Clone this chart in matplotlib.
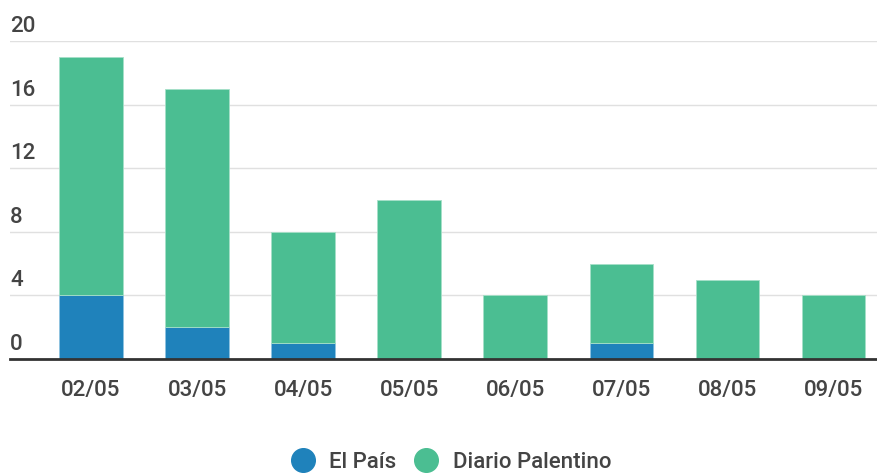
import matplotlib.pyplot as plt
from matplotlib.lines import Line2D
from matplotlib.transforms import blended_transform_factory, offset_copy
import numpy as np

plt.rcParams['font.family'] = ['Roboto', 'DejaVu Sans']

days = ['02/05', '03/05', '04/05', '05/05', '06/05', '07/05', '08/05', '09/05']
el_pais = [4, 2, 1, 0, 0, 1, 0, 0]
diario_palentino = [15, 15, 7, 10, 4, 5, 5, 4]
y_ticks = [0, 4, 8, 12, 16, 20]

blue = '#1f82bb'
green = '#4bbe92'
text_col = '#444444'

fig = plt.figure(figsize=(8.78, 4.75), dpi=100)
ax = fig.add_axes([10 / 878, 1 - 359 / 475, 868 / 878, 318 / 475])

x = np.arange(len(days))
ax.bar(x, el_pais, width=0.6, color=blue, edgecolor='#8ec3e0', linewidth=0.6, zorder=3)
ax.bar(x, diario_palentino, width=0.6, bottom=el_pais, color=green,
       edgecolor='#a6e0c8', linewidth=0.6, zorder=3)

ax.set_xlim(-0.764, 7.42)
ax.set_ylim(0, 20)
ax.set_yticks(y_ticks)
ax.set_yticklabels([])
ax.tick_params(axis='y', length=0)
ax.grid(axis='y', color='#e0e0e0', linewidth=1, zorder=0)

# y labels sit above their gridline at the left
tr = offset_copy(blended_transform_factory(ax.transAxes, ax.transData), fig=fig, x=0, y=4, units='dots')
for t in y_ticks:
    ax.text(0, t, str(t), transform=tr, ha='left', va='bottom', fontsize=16,
            color=text_col, fontweight='medium')

ax.set_xticks(x)
ax.set_xticklabels(days, fontsize=16, color=text_col, fontweight='medium')
ax.tick_params(axis='x', length=0, pad=15)

for s in ['top', 'right', 'left']:
    ax.spines[s].set_visible(False)
ax.spines['bottom'].set_color('#333333')
ax.spines['bottom'].set_linewidth(2)
ax.spines['bottom'].set_zorder(4)

handles = [
    Line2D([], [], marker='o', linestyle='', markersize=17, color=blue),
    Line2D([], [], marker='o', linestyle='', markersize=17, color=green),
]
leg = fig.legend(handles, ['El País', 'Diario Palentino'], loc='center',
                 bbox_to_anchor=(451 / 878, 1 - 462 / 475), ncol=2, frameon=False,
                 fontsize=16, handletextpad=0.65, columnspacing=0.8, handlelength=1.1)
for txt in leg.get_texts():
    txt.set_color(text_col)
    txt.set_fontweight('medium')

fig.savefig('out.png', dpi=100)
